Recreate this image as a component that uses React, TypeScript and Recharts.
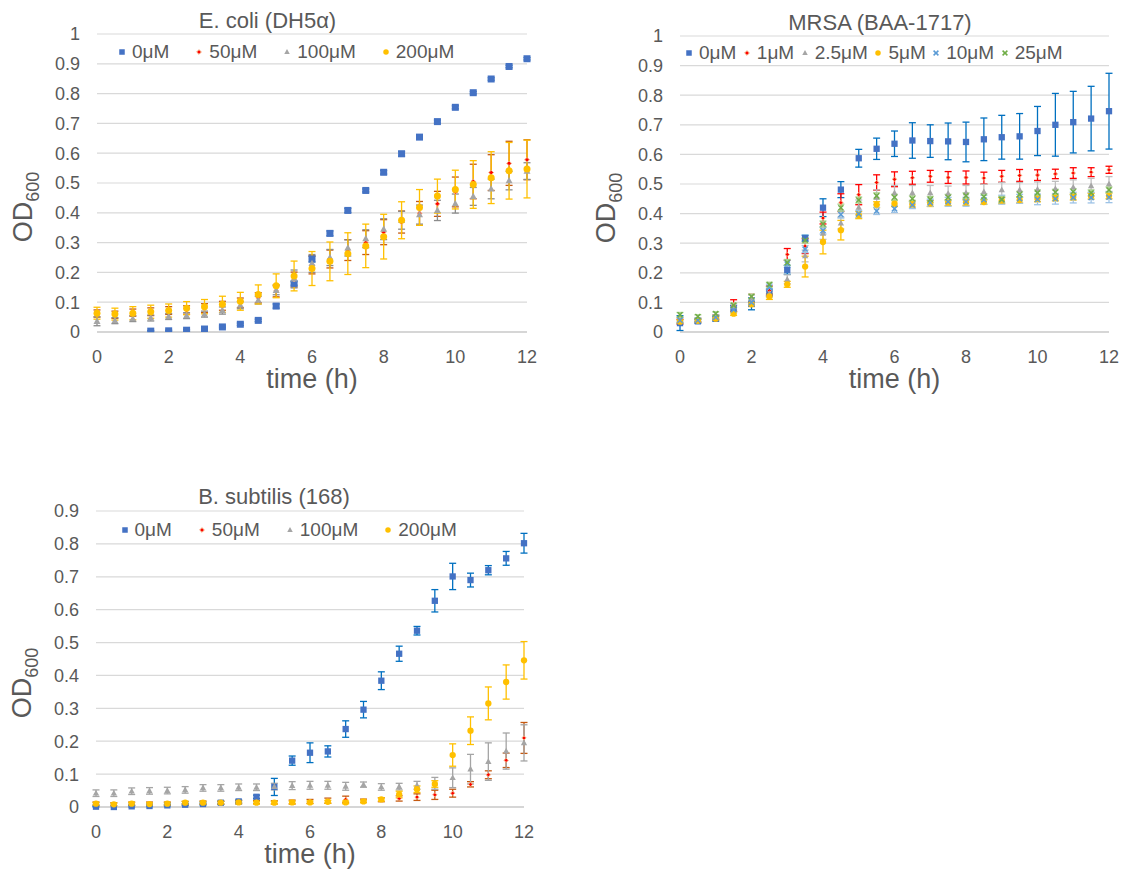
import React from 'react';
import { ScatterChart, Scatter, XAxis, YAxis, CartesianGrid, ErrorBar, Legend } from 'recharts';

const FONT = '"Liberation Sans", Arial, Helvetica, sans-serif';
const TEXT = '#595959';
const GRID = '#D9D9D9';
const AXIS = '#BFBFBF';

// sampling times (h)
const HOURS = [0, 0.5, 1, 1.5, 2, 2.5, 3, 3.5, 4, 4.5, 5, 5.5, 6, 6.5, 7, 7.5, 8, 8.5, 9, 9.5, 10, 10.5, 11, 11.5, 12];
const HOUR_TICKS = [0, 2, 4, 6, 8, 10, 12];
const OD_TICKS_10 = [0, 0.1, 0.2, 0.3, 0.4, 0.5, 0.6, 0.7, 0.8, 0.9, 1];
const OD_TICKS_09 = [0, 0.1, 0.2, 0.3, 0.4, 0.5, 0.6, 0.7, 0.8, 0.9];

// E. coli (DH5α): mean OD600 and error per time point
const ECOLI_0 = [-0.02, -0.02, -0.02, 0.003, 0.004, 0.006, 0.010, 0.017, 0.026, 0.039, 0.087, 0.163, 0.245, 0.331, 0.408, 0.475, 0.536, 0.598, 0.654, 0.706, 0.754, 0.803, 0.849, 0.891, 0.917];
const ECOLI_0_ERR = [0, 0, 0, 0.002, 0.002, 0.003, 0.003, 0.003, 0.004, 0.004, 0.007, 0.006, 0.01, 0.008, 0.007, 0.005, 0.006, 0.008, 0.007, 0.005, 0.005, 0.004, 0.004, 0.004, 0.004];
const ECOLI_50 = [0.062, 0.058, 0.065, 0.068, 0.072, 0.074, 0.080, 0.088, 0.098, 0.115, 0.138, 0.176, 0.225, 0.245, 0.275, 0.300, 0.335, 0.369, 0.398, 0.430, 0.470, 0.505, 0.535, 0.566, 0.578];
const ECOLI_50_ERR = [0.012, 0.012, 0.012, 0.013, 0.013, 0.014, 0.015, 0.015, 0.016, 0.017, 0.02, 0.025, 0.03, 0.03, 0.035, 0.04, 0.042, 0.037, 0.04, 0.042, 0.05, 0.058, 0.06, 0.074, 0.067];
const ECOLI_100 = [0.036, 0.038, 0.045, 0.047, 0.052, 0.055, 0.060, 0.072, 0.090, 0.107, 0.140, 0.178, 0.230, 0.250, 0.282, 0.313, 0.345, 0.375, 0.394, 0.408, 0.431, 0.455, 0.480, 0.508, 0.540];
const ECOLI_100_ERR = [0.015, 0.01, 0.01, 0.01, 0.01, 0.01, 0.01, 0.012, 0.012, 0.013, 0.015, 0.03, 0.03, 0.027, 0.027, 0.03, 0.035, 0.03, 0.032, 0.034, 0.032, 0.03, 0.033, 0.031, 0.028];
const ECOLI_200 = [0.063, 0.060, 0.063, 0.068, 0.072, 0.080, 0.085, 0.093, 0.103, 0.126, 0.155, 0.188, 0.213, 0.237, 0.263, 0.289, 0.320, 0.375, 0.418, 0.456, 0.478, 0.495, 0.518, 0.541, 0.547];
const ECOLI_200_ERR = [0.02, 0.02, 0.022, 0.022, 0.022, 0.022, 0.024, 0.027, 0.03, 0.032, 0.04, 0.05, 0.057, 0.065, 0.07, 0.073, 0.075, 0.062, 0.06, 0.057, 0.065, 0.08, 0.087, 0.095, 0.097];

// MRSA (BAA-1717)
const MRSA_0 = [0.030, 0.036, 0.045, 0.080, 0.095, 0.133, 0.210, 0.317, 0.420, 0.481, 0.587, 0.619, 0.636, 0.647, 0.645, 0.644, 0.642, 0.651, 0.658, 0.661, 0.679, 0.700, 0.709, 0.721, 0.746];
const MRSA_0_ERR = [0.025, 0.006, 0.008, 0.01, 0.02, 0.012, 0.015, 0.01, 0.03, 0.027, 0.03, 0.036, 0.043, 0.06, 0.055, 0.062, 0.067, 0.072, 0.074, 0.077, 0.083, 0.106, 0.104, 0.109, 0.128];
const MRSA_1 = [0.035, 0.040, 0.050, 0.089, 0.115, 0.140, 0.262, 0.290, 0.385, 0.437, 0.464, 0.505, 0.516, 0.521, 0.526, 0.522, 0.522, 0.520, 0.526, 0.529, 0.530, 0.534, 0.537, 0.540, 0.548];
const MRSA_1_ERR = [0.008, 0.006, 0.007, 0.02, 0.012, 0.015, 0.02, 0.025, 0.02, 0.03, 0.034, 0.026, 0.025, 0.022, 0.02, 0.02, 0.022, 0.02, 0.02, 0.02, 0.018, 0.016, 0.018, 0.015, 0.012];
const MRSA_2_5 = [0.040, 0.040, 0.050, 0.085, 0.115, 0.130, 0.178, 0.257, 0.333, 0.368, 0.421, 0.455, 0.470, 0.470, 0.470, 0.468, 0.470, 0.474, 0.480, 0.480, 0.482, 0.484, 0.489, 0.494, 0.500];
const MRSA_2_5_ERR = [0.008, 0.006, 0.006, 0.01, 0.01, 0.012, 0.015, 0.02, 0.02, 0.02, 0.025, 0.025, 0.025, 0.025, 0.025, 0.025, 0.025, 0.025, 0.025, 0.025, 0.025, 0.025, 0.025, 0.025, 0.025];
const MRSA_5 = [0.035, 0.038, 0.045, 0.062, 0.094, 0.120, 0.161, 0.221, 0.304, 0.344, 0.395, 0.430, 0.434, 0.432, 0.434, 0.437, 0.438, 0.439, 0.444, 0.446, 0.450, 0.453, 0.456, 0.459, 0.460];
const MRSA_5_ERR = [0.006, 0.005, 0.005, 0.006, 0.008, 0.01, 0.01, 0.035, 0.04, 0.033, 0.012, 0.01, 0.01, 0.01, 0.01, 0.01, 0.01, 0.008, 0.01, 0.01, 0.01, 0.01, 0.01, 0.01, 0.01];
const MRSA_10 = [0.040, 0.040, 0.050, 0.075, 0.100, 0.150, 0.230, 0.280, 0.343, 0.397, 0.399, 0.409, 0.416, 0.429, 0.437, 0.440, 0.440, 0.447, 0.447, 0.450, 0.448, 0.450, 0.454, 0.454, 0.455];
const MRSA_10_ERR = [0.01, 0.006, 0.006, 0.01, 0.012, 0.012, 0.012, 0.012, 0.012, 0.012, 0.012, 0.012, 0.012, 0.012, 0.012, 0.015, 0.015, 0.015, 0.015, 0.015, 0.018, 0.018, 0.018, 0.018, 0.018];
const MRSA_25 = [0.058, 0.052, 0.062, 0.090, 0.120, 0.160, 0.235, 0.310, 0.365, 0.420, 0.446, 0.460, 0.455, 0.450, 0.448, 0.455, 0.460, 0.457, 0.448, 0.465, 0.470, 0.472, 0.474, 0.470, 0.480];
const MRSA_25_ERR = [0.008, 0.006, 0.006, 0.008, 0.008, 0.008, 0.01, 0.01, 0.01, 0.012, 0.01, 0.01, 0.01, 0.01, 0.01, 0.01, 0.01, 0.01, 0.01, 0.01, 0.01, 0.01, 0.01, 0.01, 0.01];

// B. subtilis (168)
const BSUB_0 = [0.001, 0.000, 0.002, 0.003, 0.005, 0.007, 0.009, 0.013, 0.017, 0.031, 0.061, 0.141, 0.165, 0.169, 0.237, 0.296, 0.384, 0.466, 0.536, 0.627, 0.701, 0.690, 0.720, 0.756, 0.802];
const BSUB_0_ERR = [0.001, 0.0, 0.002, 0.002, 0.003, 0.003, 0.003, 0.004, 0.004, 0.005, 0.026, 0.014, 0.03, 0.017, 0.025, 0.025, 0.027, 0.023, 0.013, 0.034, 0.04, 0.021, 0.014, 0.021, 0.03];
const BSUB_50 = [0.010, 0.008, 0.010, 0.010, 0.010, 0.012, 0.013, 0.013, 0.015, 0.015, 0.014, 0.015, 0.017, 0.019, 0.023, 0.019, 0.022, 0.026, 0.030, 0.037, 0.042, 0.069, 0.098, 0.142, 0.210];
const BSUB_50_ERR = [0.005, 0.005, 0.005, 0.005, 0.005, 0.005, 0.005, 0.005, 0.005, 0.005, 0.005, 0.006, 0.006, 0.008, 0.01, 0.005, 0.006, 0.008, 0.01, 0.014, 0.012, 0.008, 0.012, 0.022, 0.047];
const BSUB_100 = [0.042, 0.042, 0.048, 0.049, 0.050, 0.052, 0.058, 0.058, 0.060, 0.060, 0.062, 0.065, 0.066, 0.066, 0.063, 0.068, 0.061, 0.062, 0.066, 0.072, 0.089, 0.115, 0.138, 0.170, 0.195];
const BSUB_100_ERR = [0.01, 0.01, 0.01, 0.01, 0.01, 0.01, 0.01, 0.01, 0.01, 0.01, 0.01, 0.012, 0.012, 0.012, 0.012, 0.008, 0.01, 0.01, 0.012, 0.018, 0.03, 0.045, 0.057, 0.055, 0.055];
const BSUB_200 = [0.010, 0.008, 0.010, 0.009, 0.010, 0.013, 0.013, 0.013, 0.014, 0.013, 0.013, 0.014, 0.014, 0.016, 0.014, 0.017, 0.023, 0.038, 0.054, 0.070, 0.158, 0.232, 0.315, 0.380, 0.446];
const BSUB_200_ERR = [0.004, 0.004, 0.004, 0.004, 0.004, 0.004, 0.004, 0.004, 0.004, 0.004, 0.004, 0.004, 0.004, 0.004, 0.004, 0.004, 0.005, 0.01, 0.01, 0.01, 0.034, 0.042, 0.05, 0.052, 0.057];

type MarkerKind = 'square' | 'diamond' | 'triangle' | 'circle' | 'cross';

type Series = {
  name: string;
  values: number[];
  errors: number[];
  marker: MarkerKind;
  color: string;
  errColor: string;
};

const ECOLI_SERIES: Series[] = [
  { name: '0μM', values: ECOLI_0, errors: ECOLI_0_ERR, marker: 'square', color: '#4472C4', errColor: '#2E75B6' },
  { name: '50μM', values: ECOLI_50, errors: ECOLI_50_ERR, marker: 'diamond', color: '#FF0000', errColor: '#C55A11' },
  { name: '100μM', values: ECOLI_100, errors: ECOLI_100_ERR, marker: 'triangle', color: '#A5A5A5', errColor: '#8C8C8C' },
  { name: '200μM', values: ECOLI_200, errors: ECOLI_200_ERR, marker: 'circle', color: '#FFC000', errColor: '#FFC000' },
];

const MRSA_SERIES: Series[] = [
  { name: '0μM', values: MRSA_0, errors: MRSA_0_ERR, marker: 'square', color: '#4472C4', errColor: '#0070C0' },
  { name: '1μM', values: MRSA_1, errors: MRSA_1_ERR, marker: 'diamond', color: '#FF0000', errColor: '#FF0000' },
  { name: '2.5μM', values: MRSA_2_5, errors: MRSA_2_5_ERR, marker: 'triangle', color: '#A5A5A5', errColor: '#BFBFBF' },
  { name: '5μM', values: MRSA_5, errors: MRSA_5_ERR, marker: 'circle', color: '#FFC000', errColor: '#FFC000' },
  { name: '10μM', values: MRSA_10, errors: MRSA_10_ERR, marker: 'cross', color: '#5B9BD5', errColor: '#9DC3E6' },
  { name: '25μM', values: MRSA_25, errors: MRSA_25_ERR, marker: 'cross', color: '#70AD47', errColor: '#A9D18E' },
];

const BSUB_SERIES: Series[] = [
  { name: '0μM', values: BSUB_0, errors: BSUB_0_ERR, marker: 'square', color: '#4472C4', errColor: '#0070C0' },
  { name: '50μM', values: BSUB_50, errors: BSUB_50_ERR, marker: 'diamond', color: '#FF0000', errColor: '#C55A11' },
  { name: '100μM', values: BSUB_100, errors: BSUB_100_ERR, marker: 'triangle', color: '#A5A5A5', errColor: '#A5A5A5' },
  { name: '200μM', values: BSUB_200, errors: BSUB_200_ERR, marker: 'circle', color: '#FFC000', errColor: '#FFC000' },
];

function Marker({ kind, cx, cy, size, fill }: { kind: MarkerKind; cx: number; cy: number; size: number; fill: string }) {
  if (cx == null || cy == null || Number.isNaN(cx) || Number.isNaN(cy)) return null;
  const h = size / 2;
  switch (kind) {
    case 'square':
      return <rect x={cx - h} y={cy - h} width={size} height={size} fill={fill} />;
    case 'circle':
      return <circle cx={cx} cy={cy} r={h} fill={fill} />;
    case 'triangle':
      return (
        <polygon
          points={`${cx},${cy - h * 1.05} ${cx + h},${cy + h * 0.75} ${cx - h},${cy + h * 0.75}`}
          fill={fill}
        />
      );
    case 'diamond': {
      const d = h * 0.85;
      return (
        <polygon
          points={`${cx},${cy - d} ${cx + d},${cy} ${cx},${cy + d} ${cx - d},${cy}`}
          fill={fill}
          stroke="#F4B183"
          strokeWidth={1}
        />
      );
    }
    case 'cross': {
      const c = h * 0.8;
      return (
        <g stroke={fill} strokeWidth={1.5}>
          <line x1={cx - c} y1={cy - c} x2={cx + c} y2={cy + c} />
          <line x1={cx - c} y1={cy + c} x2={cx + c} y2={cy - c} />
        </g>
      );
    }
    default:
      return null;
  }
}

type PanelProps = {
  title: string;
  series: Series[];
  yTicks: number[];
  yMax: number;
  clipY?: boolean;
  left: number;
  top: number;
  width: number;
  height: number;
  margin: { top: number; right: number; bottom: number; left: number };
  yAxisWidth: number;
  titleCenter: number;
  titleTop: number;
  legendLeft: number;
  legendTop: number;
  legendGap: number;
  markerSize: number;
};

function OdLabel(props: any) {
  const vb = props.viewBox || { x: 0, y: 0, width: 0, height: 0 };
  const bx = vb.x + vb.width - 65;
  const cy = vb.y + vb.height / 2 + 24;
  return (
    <text
      x={bx}
      y={cy}
      transform={`rotate(-90, ${bx}, ${cy})`}
      textAnchor="middle"
      fill={TEXT}
      fontFamily={FONT}
    >
      <tspan fontSize={27}>OD</tspan>
      <tspan fontSize={18} dy={7}>600</tspan>
    </text>
  );
}

function TimeLabel(props: any) {
  const vb = props.viewBox || { x: 0, y: 0, width: 0, height: 0 };
  return (
    <text x={vb.x + vb.width / 2} y={vb.y + 56} textAnchor="middle" fill={TEXT} fontSize={27} fontFamily={FONT}>
      time (h)
    </text>
  );
}

function Panel(p: PanelProps) {
  // legend entries follow the series order (0μM first)
  const legendContent = () => (
    <div
      style={{
        display: 'flex',
        alignItems: 'center',
        fontFamily: FONT,
        fontSize: 19,
        color: TEXT,
        lineHeight: '22px',
        whiteSpace: 'nowrap',
      }}
    >
      {p.series.map((s) => (
        <div key={s.name} style={{ display: 'flex', alignItems: 'center', marginRight: p.legendGap }}>
          <svg width={10} height={10} style={{ display: 'block' }}>
            <Marker kind={s.marker} cx={5} cy={5} size={s.marker === 'cross' ? 6 : 5.5} fill={s.color} />
          </svg>
          <span style={{ marginLeft: 5 }}>{s.name}</span>
        </div>
      ))}
    </div>
  );

  return (
    <div style={{ position: 'absolute', left: p.left, top: p.top, width: p.width, height: p.height, fontFamily: FONT }}>
      <div
        style={{
          position: 'absolute',
          left: p.titleCenter - 200,
          top: p.titleTop,
          width: 400,
          textAlign: 'center',
          fontSize: 22,
          lineHeight: '22px',
          color: TEXT,
          fontFamily: FONT,
          whiteSpace: 'nowrap',
        }}
      >
        {p.title}
      </div>
      <ScatterChart width={p.width} height={p.height} margin={p.margin}>
        <CartesianGrid vertical={false} stroke={GRID} strokeWidth={1.2} />
        <XAxis
          type="number"
          dataKey="t"
          domain={[0, 12]}
          ticks={HOUR_TICKS}
          interval={0}
          axisLine={{ stroke: AXIS, strokeWidth: 1.2 }}
          tickLine={false}
          tickSize={0}
          tickMargin={18}
          height={60}
          tick={{ fill: TEXT, fontSize: 18, fontFamily: FONT }}
          label={(lp: any) => <TimeLabel {...lp} />}
        />
        <YAxis
          type="number"
          dataKey="od"
          domain={[0, p.yMax]}
          ticks={p.yTicks}
          interval={0}
          allowDataOverflow={!!p.clipY}
          axisLine={false}
          tickLine={false}
          tickSize={0}
          tickMargin={17}
          width={p.yAxisWidth}
          tick={{ fill: TEXT, fontSize: 18, fontFamily: FONT }}
          label={(lp: any) => <OdLabel {...lp} />}
        />
        <Legend
          layout="horizontal"
          verticalAlign="middle"
          align="center"
          content={legendContent}
          wrapperStyle={{ left: p.legendLeft, top: p.legendTop, width: 'auto', height: 22 }}
        />
        {p.series.map((s) => (
          <Scatter
            key={s.name}
            name={s.name}
            data={HOURS.map((t, i) => ({ t, od: s.values[i], err: s.errors[i] }))}
            fill={s.color}
            isAnimationActive={false}
            shape={(sp: any) => (
              <Marker
                kind={s.marker}
                cx={sp.cx}
                cy={sp.cy}
                size={s.marker === 'diamond' ? p.markerSize * 0.8 : p.markerSize}
                fill={s.color}
              />
            )}
          >
            <ErrorBar
              dataKey="err"
              direction="y"
              width={3.5}
              stroke={s.errColor}
              strokeWidth={1.3}
              isAnimationActive={false}
            />
          </Scatter>
        ))}
      </ScatterChart>
    </div>
  );
}

export default function App() {
  return (
    <div style={{ position: 'absolute', left: 0, top: 0, width: 1125, height: 875, background: '#FFFFFF', overflow: 'hidden' }}>
      <Panel
        title="E. coli (DH5α)"
        series={ECOLI_SERIES}
        yTicks={OD_TICKS_10}
        yMax={1}
        clipY
        left={0}
        top={0}
        width={560}
        height={420}
        margin={{ top: 34, right: 33, bottom: 28, left: 0 }}
        yAxisWidth={97}
        titleCenter={267.5}
        titleTop={10}
        legendLeft={117}
        legendTop={41}
        legendGap={25}
        markerSize={7}
      />
      <Panel
        title="MRSA (BAA-1717)"
        series={MRSA_SERIES}
        yTicks={OD_TICKS_10}
        yMax={1}
        left={580}
        top={0}
        width={545}
        height={420}
        margin={{ top: 36, right: 16, bottom: 28, left: 3 }}
        yAxisWidth={97}
        titleCenter={300}
        titleTop={11.5}
        legendLeft={104}
        legendTop={42}
        legendGap={5.5}
        markerSize={6.3}
      />
      <Panel
        title="B. subtilis (168)"
        series={BSUB_SERIES}
        yTicks={OD_TICKS_09}
        yMax={0.9}
        left={0}
        top={470}
        width={560}
        height={400}
        margin={{ top: 41, right: 36, bottom: 3, left: 0 }}
        yAxisWidth={96}
        titleCenter={274}
        titleTop={16}
        legendLeft={119.5}
        legendTop={49}
        legendGap={25}
        markerSize={6.3}
      />
    </div>
  );
}
